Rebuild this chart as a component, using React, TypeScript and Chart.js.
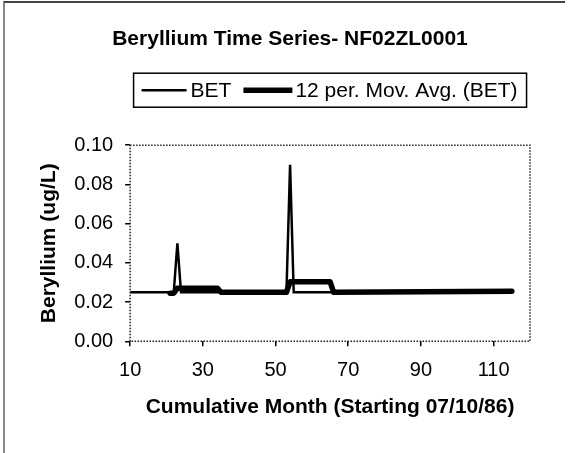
import React, { useEffect, useRef } from "react";
import { Chart, registerables } from "chart.js";

Chart.register(...registerables);

// ---- data ----
const betMonths = [10, 22, 23, 24, 53, 54, 55, 115];
const betValues = [0.025, 0.025, 0.05, 0.025, 0.025, 0.09, 0.025, 0.025];

const maMonths = [21, 22, 23, 34, 35, 53, 54, 65, 66, 115];
const maValues = [0.0245, 0.0245, 0.0271, 0.0271, 0.025, 0.025, 0.0304, 0.0304, 0.025, 0.0255];

const xTickValues = [10, 30, 50, 70, 90, 110];
const yTickValues = [0, 0.02, 0.04, 0.06, 0.08, 0.1];

const seriesLabels = ["BET", "12 per. Mov. Avg. (BET)"];
const titleText = "Beryllium Time Series- NF02ZL0001";
const xTitle = "Cumulative Month (Starting 07/10/86)";
const yTitle = "Beryllium (ug/L)";

const FONT = "'Liberation Sans', Arial, Helvetica, sans-serif";

const plotFrame = {
  id: "plotFrame",
  afterDatasetsDraw(chart: any) {
    const { ctx, chartArea: a } = chart;
    ctx.save();
    ctx.strokeStyle = "#222";
    ctx.lineWidth = 1.5;
    ctx.setLineDash([1.5, 1.5]);
    ctx.strokeRect(a.left, a.top, a.right - a.left, a.bottom - a.top);
    ctx.restore();
  },
};

const customLegend = {
  id: "customLegend",
  afterDraw(chart: any) {
    const { ctx, chartArea: a } = chart;
    ctx.save();
    ctx.font = `21px ${FONT}`;
    const w1 = ctx.measureText(seriesLabels[0]).width;
    const w2 = ctx.measureText(seriesLabels[1]).width;
    const padL = 8, line1 = 45, gap1 = 4, gapMid = 12, line2 = 49, gap2 = 3, padR = 9;
    const boxW = padL + line1 + gap1 + w1 + gapMid + line2 + gap2 + w2 + padR;
    const cx = (a.left + a.right) / 2;
    const left = cx - boxW / 2;
    const top = a.top - 72;
    const h = 34;
    const cy = top + h / 2;
    ctx.strokeStyle = "#000";
    ctx.lineWidth = 1.5;
    ctx.strokeRect(left, top, boxW, h);
    let x = left + padL;
    ctx.lineWidth = 2.5;
    ctx.beginPath();
    ctx.moveTo(x, cy);
    ctx.lineTo(x + line1, cy);
    ctx.stroke();
    x += line1 + gap1;
    ctx.fillStyle = "#000";
    ctx.textBaseline = "middle";
    ctx.textAlign = "left";
    ctx.fillText(seriesLabels[0], x, cy + 1);
    x += w1 + gapMid;
    ctx.lineWidth = 5.5;
    ctx.beginPath();
    ctx.moveTo(x, cy);
    ctx.lineTo(x + line2, cy);
    ctx.stroke();
    x += line2 + gap2;
    ctx.fillText(seriesLabels[1], x, cy + 1);
    ctx.restore();
  },
};

export default function App() {
  const ref = useRef<HTMLCanvasElement | null>(null);

  useEffect(() => {
    document.body.style.margin = "0";
    const canvas = ref.current;
    if (!canvas) return;
    const chart = new Chart(canvas, {
      type: "line",
      data: {
        datasets: [
          {
            label: seriesLabels[0],
            data: betMonths.map((m, i) => ({ x: m, y: betValues[i] })),
            borderColor: "#000",
            backgroundColor: "#000",
            borderWidth: 2.5,
            pointRadius: 0,
            tension: 0,
            order: 1,
          },
          {
            label: seriesLabels[1],
            data: maMonths.map((m, i) => ({ x: m, y: maValues[i] })),
            borderColor: "#000",
            backgroundColor: "#000",
            borderWidth: 5.5,
            pointRadius: 0,
            tension: 0,
            borderJoinStyle: "round",
            borderCapStyle: "round",
            order: 0,
          },
        ],
      },
      options: {
        animation: false,
        responsive: false,
        maintainAspectRatio: false,
        layout: { padding: { left: 0, right: 0, top: 0, bottom: 33 } },
        plugins: {
          legend: { display: false },
          tooltip: { enabled: false },
          title: {
            display: true,
            text: titleText,
            color: "#000",
            font: { family: FONT, size: 21, weight: "bold" },
            padding: { top: 27, bottom: 93 },
          },
        },
        scales: {
          x: {
            type: "linear",
            min: 10,
            max: 120,
            afterBuildTicks: (s: any) => {
              s.ticks = xTickValues.map((v) => ({ value: v }));
            },
            grid: { drawOnChartArea: false, drawTicks: true, tickLength: 5, color: "#000", lineWidth: 1.5 },
            border: { display: false },
            ticks: { color: "#000", font: { family: FONT, size: 20 }, padding: 12, maxRotation: 0, autoSkip: false },
            title: {
              display: true,
              text: xTitle,
              color: "#000",
              font: { family: FONT, size: 21, weight: "bold" },
              padding: { top: 0.5, bottom: 0 },
            },
          },
          y: {
            type: "linear",
            min: 0,
            max: 0.1,
            afterBuildTicks: (s: any) => {
              s.ticks = yTickValues.map((v) => ({ value: v }));
            },
            grid: { drawOnChartArea: false, drawTicks: true, tickLength: 5, color: "#000", lineWidth: 1.5 },
            border: { display: false },
            ticks: {
              color: "#000",
              font: { family: FONT, size: 20 },
              padding: 12,
              callback: (v: any) => Number(v).toFixed(2),
            },
            title: {
              display: true,
              text: yTitle,
              color: "#000",
              font: { family: FONT, size: 21, weight: "bold" },
              padding: { top: 37, bottom: 0 },
            },
          },
          yRight: {
            type: "linear",
            position: "right",
            display: true,
            min: 0,
            max: 0.1,
            grid: { display: false, drawTicks: false },
            border: { display: false },
            ticks: { display: false },
            afterFit: (s: any) => {
              s.width = 50;
            },
          },
        },
      },
      plugins: [plotFrame, customLegend],
    });
    return () => chart.destroy();
  }, []);

  return (
    <div style={{ position: "relative", width: 580, height: 453, background: "#fff" }}>
      <canvas ref={ref} width={580} height={453} style={{ display: "block", width: 580, height: 453 }} />
      <div style={{ position: "absolute", left: 3, top: 1, width: 560, height: 452, borderLeft: "2px solid #888", borderTop: "2px solid #444", pointerEvents: "none" }} />
    </div>
  );
}
